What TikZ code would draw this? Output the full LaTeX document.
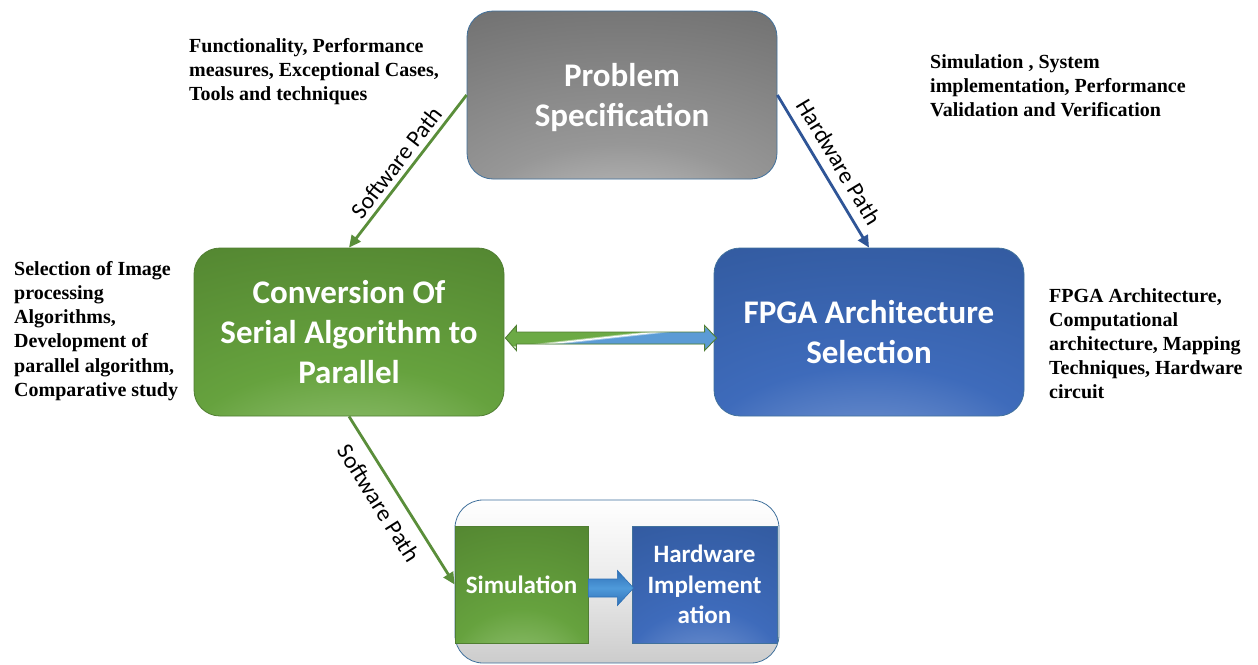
\documentclass[tikz,border=0pt]{standalone}
\usepackage{fontspec}
\setmainfont{Liberation Serif}
\newfontfamily\calfont{Carlito}
\usetikzlibrary{arrows.meta,calc}

% palette
\definecolor{gDark}{HTML}{6E6E6E}
\definecolor{gMid}{HTML}{979797}
\definecolor{gLight}{HTML}{DADADA}
\definecolor{grDark}{HTML}{4C7B2C}
\definecolor{grMid}{HTML}{66A23E}
\definecolor{grLight}{HTML}{AAD28F}
\definecolor{blDark}{HTML}{2E5495}
\definecolor{blMid}{HTML}{3E6BBB}
\definecolor{blLight}{HTML}{90ABDC}
\definecolor{edgeblue}{HTML}{41719C}
\definecolor{edgegreen}{HTML}{507E32}
\definecolor{swgreen}{HTML}{5A8E3A}
\definecolor{hwblue}{HTML}{2F5597}
\definecolor{arrgreen}{HTML}{6CAA45}
\definecolor{arrblue}{HTML}{5B9BD5}
\definecolor{blockblue}{HTML}{2E70B6}
\definecolor{blockblueL}{HTML}{4F9ADA}

% glowing fills, brightest at the bottom centre
\pgfdeclareradialshading{grayglow}{\pgfpoint{0bp}{-50bp}}{color(0bp)=(gLight); color(25bp)=(gMid); color(60bp)=(gDark); color(120bp)=(gDark)}
\pgfdeclareradialshading{greenglow}{\pgfpoint{0bp}{-50bp}}{color(0bp)=(grLight); color(28bp)=(grMid); color(70bp)=(grDark); color(120bp)=(grDark)}
\pgfdeclareradialshading{blueglow}{\pgfpoint{0bp}{-50bp}}{color(0bp)=(blLight); color(28bp)=(blMid); color(70bp)=(blDark); color(120bp)=(blDark)}

\tikzset{
  mainbox/.style={rounded corners=26pt, minimum width=310pt, minimum height=168pt,
    line width=0.8pt, text=white, align=center, inner sep=0pt,
    font=\calfont\bfseries\fontsize{33}{40}\selectfont},
  boxtext/.style={text=white, align=center, inner sep=0pt,
    font=\calfont\bfseries\fontsize{33}{40}\selectfont},
  subbox/.style={minimum height=117pt, line width=0.8pt, text=white, align=center,
    inner sep=0pt, font=\calfont\bfseries\fontsize{25}{30.5}\selectfont},
  note/.style={anchor=north west, inner sep=0pt, align=left,
    font=\bfseries\fontsize{20}{24.2}\selectfont},
  pathlabel/.style={sloped, font=\calfont\fontsize{23.5}{27}\selectfont},
  swpath/.style={draw=swgreen, line width=2.8pt, -{Triangle[length=12pt,width=11pt]}},
  hwpath/.style={draw=hwblue, line width=2.8pt, -{Triangle[length=12pt,width=11pt]}},
}

\begin{document}
\begin{tikzpicture}[x=1pt,y=-1pt]
\useasboundingbox[fill=white] (0,0) rectangle (1258,664);

% stage boxes
\node (prob) [mainbox, shading=grayglow, draw=edgeblue] at (622,95) {};
\node (probtext) [boxtext] at ($(prob.center)+(0,3)$) {Problem\\Specification};
\node (conv) [mainbox, shading=greenglow, draw=edgegreen] at (349,332) {Conversion Of\\Serial Algorithm to\\Parallel};
\node (fpga) [mainbox, shading=blueglow, draw=edgeblue] at (869,332) {FPGA Architecture\\Selection};

% final stage container with its two steps
\node (stage) [rounded corners=28pt, minimum width=324pt, minimum height=163pt,
  top color=white, bottom color=black!20, middle color=black!8, draw=edgeblue, line width=0.8pt]
  at (617,581.5) {};
\node (sim) [subbox, minimum width=133pt, shading=greenglow, draw=edgegreen] at (521.5,584.5) {Simulation};
\node (hw) [subbox, minimum width=145pt, shading=blueglow, draw=edgeblue] at (704.5,584.5) {Hardware\\Implement\\ation};

% block arrow between the two steps
\coordinate (ba) at ($(sim.east)+(0,3.5)$);
\path[top color=blockblue, bottom color=blockblue, middle color=blockblueL, draw=blockblue, line width=0.6pt]
  ($(ba)+(0,-9)$) -- ++(29,0) -- ++(0,-8.5) -- ($(hw.west)+(2,3.5)$)
  -- ($(ba)+(29,17.5)$) -- ++(0,-8.5) -- ($(ba)+(0,9)$) -- cycle;

% two-headed arrow between conversion and architecture selection
\coordinate (dl) at ($(conv.east)+(1,6)$);
\coordinate (dr) at ($(fpga.west)+(3,6)$);
\begin{scope}
  \clip (dl) -- ++(11,-12.5) -- ++(0,6.5) -- ($(dr)+(-12,-6)$) -- ++(0,-6.5) -- (dr)
    -- ++(-12,12.5) -- ++(0,-6.5) -- ($(dl)+(11,6)$) -- ++(0,6.5) -- cycle;
  \fill[arrgreen] ($(dl)+(-5,-15)$) rectangle ($(dr)+(5,15)$);
  \fill[arrblue] ($(dl)+(-40.5,15)$) -- ($(dl)+(234.5,-15)$) -- ($(dl)+(260,-15)$) -- ($(dl)+(260,15)$) -- cycle;
  \draw[white, opacity=0.5, line width=3pt] ($(dl)+(-40.5,15)$) -- ($(dl)+(234.5,-15)$);
  \draw[white, line width=1.2pt] ($(dl)+(-40.5,15)$) -- ($(dl)+(234.5,-15)$);
\end{scope}
\draw[edgegreen, line width=0.9pt, line join=miter]
  (dl) -- ++(11,-12.5) -- ++(0,6.5) -- ($(dr)+(-12,-6)$) -- ++(0,-6.5) -- (dr)
  -- ++(-12,12.5) -- ++(0,-6.5) -- ($(dl)+(11,6)$) -- ++(0,6.5) -- cycle;

% design paths
\draw[swpath] (prob.west) -- (conv.north)
  node[pathlabel, midway, above, inner sep=5pt] {Software Path};
\draw[hwpath] (prob.east) -- (fpga.north)
  node[pathlabel, midway, above, inner sep=9pt] {Hardware Path};
\draw[swpath] (conv.south) -- (sim.west)
  node[pathlabel, pos=0.45, below, inner sep=11pt] {Software Path};

% annotations
\node (n1) [note] at (189,38) {Functionality, Performance\\measures, Exceptional Cases,\\Tools and techniques};
\node (n2) [note] at (930,54) {Simulation , System\\implementation, Performance\\Validation and Verification};
\node (n3) [note] at (14,261) {Selection of Image\\processing\\Algorithms,\\Development of\\parallel algorithm,\\Comparative study};
\node (n4) [note] at (1049,288) {FPGA Architecture,\\Computational\\architecture, Mapping\\Techniques, Hardware\\circuit};
\end{tikzpicture}
\end{document}
